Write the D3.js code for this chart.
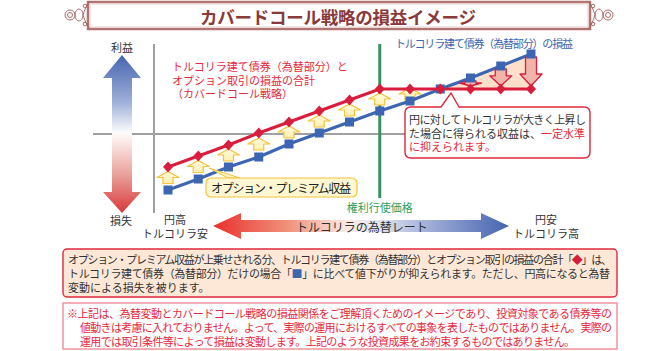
<!DOCTYPE html>
<html lang="ja">
<head>
<meta charset="utf-8">
<script src="https://cdn.jsdelivr.net/npm/d3@7"></script>
<style>
  body { margin: 0; background: #fff; }
  svg { display: block; font-family: "Noto Sans CJK JP", "Noto Sans", sans-serif; }
</style>
</head>
<body>
<svg id="chart"></svg>
<script>
// 為替レートの段階（左: 円高 → 右: 円安）
const rateSteps = [0, 1, 2, 3, 4, 5, 6, 7, 8, 9, 10, 11, 12];
// トルコリラ建て債券（為替部分）の損益
const bondPL = [-56, -45, -33, -23, -10, 1, 12, 23, 33, 45, 56, 68, 80];
// カバードコール戦略の損益（債券 + オプション）
const coveredPL = [-33, -22, -11, 1, 12, 23, 34, 45, 45, 45, 45, 45, 45];
// オプション・プレミアム収益の矢印、上昇が抑えられる矢印
const premiumSteps = [0, 1, 2, 3, 4, 5, 6, 7, 8];
const cappedSteps = [10, 11, 12];
const strikeStep = 7;
const crossStep = 9;

const title = "カバードコール戦略の損益イメージ";
const coveredLabel = ["トルコリラ建て債券（為替部分）と", "オプション取引の損益の合計", "（カバードコール戦略）"];
const bondLabel = "トルコリラ建て債券（為替部分）の損益";
const calloutLines = [
  [["円に対してトルコリラが大きく上昇し", false]],
  [["た場合に得られる収益は、", false], ["一定水準", true]],
  [["に抑えられます。", true]],
];
const noteLines = [
  [["オプション・プレミアム収益が上乗せされる分、トルコリラ建て債券（為替部分）とオプション取引の損益の合計「", "#333"], ["◆", "#d81e3c"], ["」は、", "#333"]],
  [["トルコリラ建て債券（為替部分）だけの場合「", "#333"], ["■", "#3d66b2"], ["」に比べて値下がりが抑えられます。ただし、円高になると為替", "#333"]],
  [["変動による損失を被ります。", "#333"]],
];
const disclaimerLines = [
  "※上記は、為替変動とカバードコール戦略の損益関係をご理解頂くためのイメージであり、投資対象である債券等の",
  "値動きは考慮に入れておりません。よって、実際の運用におけるすべての事象を表したものではありません。実際の",
  "運用では取引条件等によって損益は変動します。上記のような投資成果をお約束するものではありません。",
];

const width = 668;
const height = 351;
const RED = "#d81e3c";
const BLUE = "#3d66b2";
const GREEN = "#3a9160";
const TEXT = "#333";

const svg = d3.select("#chart").attr("width", width).attr("height", height);
const defs = svg.append("defs");

function gradient(id, x2, y2, stops) {
  const g = defs.append("linearGradient").attr("id", id)
    .attr("x1", 0).attr("y1", 0).attr("x2", x2).attr("y2", y2);
  stops.forEach(([o, c]) => g.append("stop").attr("offset", o).attr("stop-color", c));
}
gradient("vGrad", 0, 1, [[0, "#4665b0"], [0.3, "#9fb0d8"], [0.49, "#fbfbfd"], [0.53, "#fdf0ee"], [0.75, "#eaa39d"], [1, "#d8383a"]]);
gradient("hGrad", 1, 0, [[0, "#e8302c"], [0.25, "#f0907a"], [0.45, "#fbe9e3"], [0.55, "#e4e7f3"], [0.75, "#99a7d3"], [1, "#4664b0"]]);
gradient("yGrad", 0, 1, [[0, "#fffbe0"], [1, "#fff0b0"]]);

// ---- タイトル ----
const titleG = svg.append("g");
titleG.append("rect").attr("x", 88).attr("y", 2).attr("width", 502).attr("height", 27)
  .attr("fill", "#fff").attr("stroke", "#b07472").attr("stroke-width", 2.5);
titleG.append("rect").attr("x", 90).attr("y", 4).attr("width", 498).attr("height", 23)
  .attr("fill", "none").attr("stroke", "#e8cfcd").attr("stroke-width", 1);
[[76, 1], [602, -1]].forEach(([cx, dir]) => {
  const o = titleG.append("g").attr("fill", "none").attr("stroke", "#a45e5c").attr("stroke-width", 0.9);
  o.append("circle").attr("cx", cx - dir * 6).attr("cy", 15).attr("r", 5);
  o.append("circle").attr("cx", cx - dir * 6).attr("cy", 15).attr("r", 2.5);
  o.append("ellipse").attr("cx", cx + dir * 3).attr("cy", 15).attr("rx", 4).attr("ry", 6);
  o.append("path").attr("d", `M${cx + dir * 7},15 C${cx + dir * 10},6 ${cx + dir * 12},3 ${cx + dir * 14},2`);
  o.append("path").attr("d", `M${cx + dir * 7},15 C${cx + dir * 10},24 ${cx + dir * 12},27 ${cx + dir * 14},29`);
  o.append("circle").attr("cx", cx + dir * 9).attr("cy", 6).attr("r", 1.8);
  o.append("circle").attr("cx", cx + dir * 9).attr("cy", 24).attr("r", 1.8);
});
titleG.append("text").attr("x", 338).attr("y", 16).attr("text-anchor", "middle")
  .attr("dominant-baseline", "central").attr("font-size", 17.5).attr("font-weight", "bold")
  .attr("fill", "#8a3a3a").attr("textLength", 276).text(title);

// ---- スケール ----
const x = d3.scalePoint().domain(rateSteps).range([168, 531]);
const y = d3.scaleLinear().domain([-60, 90]).range([194, 44]);

// ---- 軸 ----
svg.append("line").attr("x1", 93).attr("x2", 405).attr("y1", y(0)).attr("y2", y(0))
  .attr("stroke", "#a0a0a0").attr("stroke-width", 2);
svg.append("line").attr("x1", 154).attr("x2", 154).attr("y1", 44).attr("y2", 213)
  .attr("stroke", "#a0a0a0").attr("stroke-width", 2);

// 利益・損失の縦矢印
svg.append("path")
  .attr("d", "M122,55 L141,78 L132,78 L132,192 L141,192 L122,213 L103,192 L112,192 L112,78 L103,78 Z")
  .attr("fill", "url(#vGrad)");
svg.append("text").attr("x", 122).attr("y", 47).attr("text-anchor", "middle")
  .attr("dominant-baseline", "central").attr("font-size", 11).attr("fill", TEXT).text("利益");
svg.append("text").attr("x", 121).attr("y", 220).attr("text-anchor", "middle")
  .attr("dominant-baseline", "central").attr("font-size", 11).attr("fill", TEXT).text("損失");

// 権利行使価格
svg.append("line").attr("x1", x(strikeStep)).attr("x2", x(strikeStep)).attr("y1", 44).attr("y2", 198)
  .attr("stroke", GREEN).attr("stroke-width", 3);
svg.append("text").attr("x", x(strikeStep)).attr("y", 207).attr("text-anchor", "middle")
  .attr("dominant-baseline", "central").attr("font-size", 11).attr("fill", "#2fa060").text("権利行使価格");

// ---- 上昇抑制部分の三角形 ----
svg.append("path")
  .attr("d", d3.line()([
    [x(crossStep), y(coveredPL[crossStep])],
    [x(12), y(bondPL[12])],
    [x(12), y(coveredPL[12])],
  ]) + "Z")
  .attr("fill", "#fde0cb");

// 矢印パス
function arrowPath(cx, tail, tip, headW, shaftW, headH) {
  const dir = tip < tail ? -1 : 1;
  const base = tip - dir * headH;
  return `M${cx},${tip} L${cx + headW / 2},${base} L${cx + shaftW / 2},${base} L${cx + shaftW / 2},${tail}` +
    ` L${cx - shaftW / 2},${tail} L${cx - shaftW / 2},${base} L${cx - headW / 2},${base} Z`;
}

// オプション・プレミアムの上向き矢印
svg.append("g").selectAll("path").data(premiumSteps).join("path")
  .attr("d", (i) => {
    const mid = (y(bondPL[i]) + y(coveredPL[i])) / 2 - 1;
    return arrowPath(x(i), mid + 6, mid - 6, 22, 10, 6);
  })
  .attr("fill", "url(#yGrad)").attr("stroke", "#f4c23c").attr("stroke-width", 1.2)
  .attr("stroke-linejoin", "round");

// ---- 線 ----
const line = d3.line().x((d, i) => x(rateSteps[i])).y((d) => y(d));
svg.append("path").attr("d", line(bondPL)).attr("fill", "none").attr("stroke", BLUE).attr("stroke-width", 3);
svg.append("path").attr("d", line(coveredPL)).attr("fill", "none").attr("stroke", RED).attr("stroke-width", 3);

// 上昇が抑えられる下向き矢印
svg.append("g").selectAll("path").data(cappedSteps).join("path")
  .attr("d", (i) => {
    const tail = y(bondPL[i]) + 3;
    const tip = y(coveredPL[i]) - 3;
    return arrowPath(x(i), tail, tip, 22, 11, Math.min(12, (tip - tail) * 0.6));
  })
  .attr("fill", "#f2b3a8").attr("stroke", RED).attr("stroke-width", 1.3)
  .attr("stroke-linejoin", "round");

// マーカー
svg.append("g").selectAll("rect").data(bondPL).join("rect")
  .attr("x", (d, i) => x(rateSteps[i]) - 4.5).attr("y", (d) => y(d) - 4.5)
  .attr("width", 9).attr("height", 9).attr("fill", BLUE);
svg.append("g").selectAll("path").data(coveredPL).join("path")
  .attr("d", "M0,-5.5L5,0L0,5.5L-5,0Z")
  .attr("transform", (d, i) => `translate(${x(rateSteps[i])},${y(d)})`)
  .attr("fill", RED);

// ---- ラベル ----
svg.append("g").selectAll("text").data(coveredLabel).join("text")
  .attr("x", 172).attr("y", (d, i) => 66 + i * 13.5)
  .attr("dominant-baseline", "central").attr("font-size", 11).attr("fill", "#e8283c")
  .text((d) => d);
svg.append("text").attr("x", 395).attr("y", 43).attr("dominant-baseline", "central")
  .attr("font-size", 11).attr("fill", BLUE).attr("textLength", 178).text(bondLabel);

// 吹き出し
svg.append("path")
  .attr("d", "M411,107 L441,107 L451,93 L459,107 L584,107 Q590,107 590,113 L590,152 Q590,158 584,158 L411,158 Q405,158 405,152 L405,113 Q405,107 411,107 Z")
  .attr("fill", "#fff").attr("stroke", "#e0283c").attr("stroke-width", 1.4);
calloutLines.forEach((parts, i) => {
  const t = svg.append("text").attr("x", 409).attr("y", 119 + i * 13.5)
    .attr("dominant-baseline", "central").attr("font-size", 11);
  parts.forEach(([s, red]) => t.append("tspan").attr("fill", red ? "#e8283c" : TEXT).text(s));
  if (i === 0) t.attr("textLength", 177);
});

// オプション・プレミアム収益のラベル
svg.append("path").attr("d", "M209,168 L240,178 L228,178 Z")
  .attr("fill", "#fff3c0").attr("stroke", "#f4c23c").attr("stroke-width", 1);
svg.append("rect").attr("x", 206).attr("y", 178).attr("width", 151).attr("height", 19).attr("rx", 5)
  .attr("fill", "#fff7d2").attr("stroke", "#f4c23c").attr("stroke-width", 1.2);
svg.append("text").attr("x", 281).attr("y", 187.5).attr("text-anchor", "middle")
  .attr("dominant-baseline", "central").attr("font-size", 12).attr("fill", "#222")
  .attr("textLength", 140).text("オプション・プレミアム収益");

// ---- 為替レートの横矢印 ----
svg.append("path")
  .attr("d", "M213,226 L241,213 L241,220 L481,220 L481,213 L509,226 L481,239 L481,232 L241,232 L241,239 Z")
  .attr("fill", "url(#hGrad)");
svg.append("text").attr("x", 362).attr("y", 226).attr("text-anchor", "middle")
  .attr("dominant-baseline", "central").attr("font-size", 12).attr("fill", TEXT).text("トルコリラの為替レート");
[[175, "円高", "トルコリラ安"], [546, "円安", "トルコリラ高"]].forEach(([cx, a, b]) => {
  svg.append("text").attr("x", cx).attr("y", 219).attr("text-anchor", "middle")
    .attr("dominant-baseline", "central").attr("font-size", 11).attr("fill", TEXT).text(a);
  svg.append("text").attr("x", cx).attr("y", 233).attr("text-anchor", "middle")
    .attr("dominant-baseline", "central").attr("font-size", 11).attr("fill", TEXT).text(b);
});

// ---- 説明ボックス ----
svg.append("rect").attr("x", 63).attr("y", 249).attr("width", 554).attr("height", 48).attr("rx", 4)
  .attr("fill", "#fde8d8").attr("stroke", "#e0283c").attr("stroke-width", 1.4);
noteLines.forEach((parts, i) => {
  const t = svg.append("text").attr("x", 68).attr("y", 259 + i * 14)
    .attr("dominant-baseline", "central").attr("font-size", 11);
  parts.forEach(([s, c]) => t.append("tspan").attr("fill", c).text(s));
  if (i < 2) t.attr("textLength", i === 0 ? 544 : 542);
});

svg.append("rect").attr("x", 63).attr("y", 303).attr("width", 554).attr("height", 46)
  .attr("fill", "#fff").attr("stroke", "#f28c98").attr("stroke-width", 1.4);
disclaimerLines.forEach((s, i) => {
  svg.append("text").attr("x", i === 0 ? 67 : 80).attr("y", 313 + i * 14)
    .attr("dominant-baseline", "central").attr("font-size", 11).attr("fill", "#e8283c")
    .attr("textLength", i === 0 ? 545 : i === 1 ? 532 : 495).text(s);
});
</script>
</body>
</html>
